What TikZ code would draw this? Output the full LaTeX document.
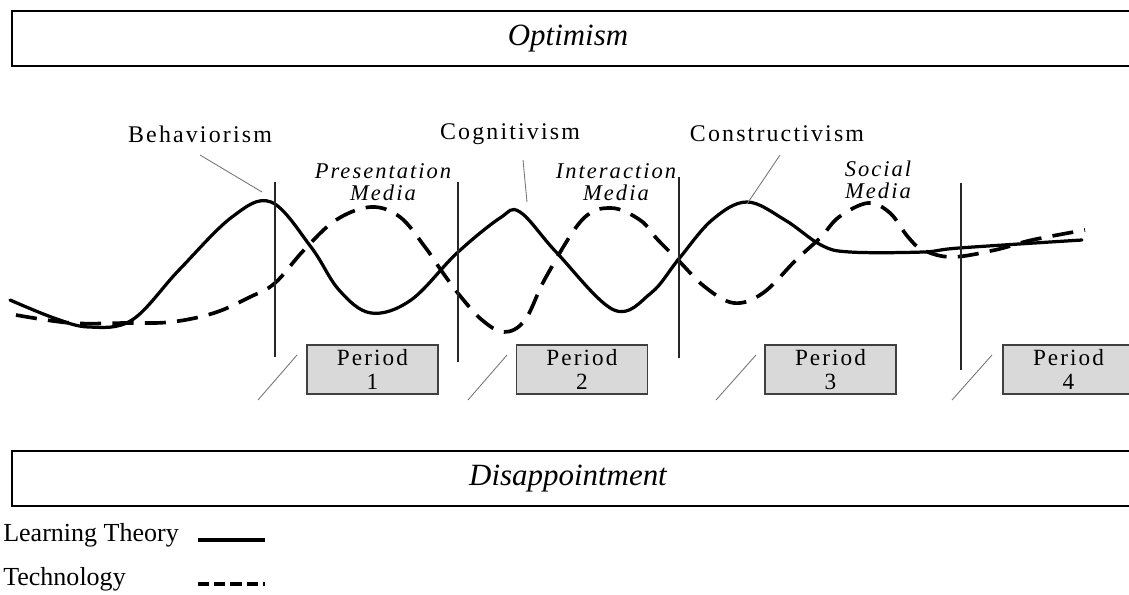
\documentclass[tikz,border=0pt]{standalone}
\usepackage{fontspec}
\setmainfont{Liberation Serif}
\newfontfamily\spacedfont[LetterSpace=9]{Liberation Serif}
\usetikzlibrary{positioning}

\begin{document}
\begin{tikzpicture}[x=0.025cm,y=-0.025cm,
  bandbox/.style={draw=black,line width=1.5pt},
  bandtext/.style={font=\fontsize{22}{24}\selectfont\itshape},
  theorylabel/.style={font=\spacedfont\fontsize{17}{17}\selectfont,inner sep=1pt},
  medialabel/.style={font=\spacedfont\fontsize{16}{16}\selectfont\itshape,align=center,inner sep=1pt},
  periodbox/.style={draw=black!75,fill=black!15,line width=1pt,minimum width=3.275cm,minimum height=1.225cm,align=center,font=\spacedfont\fontsize{16.5}{17.5}\selectfont,inner sep=0pt},
  divider/.style={draw=black!85,line width=1.3pt},
  pointer/.style={draw=black!55,line width=0.6pt},
  theoryline/.style={line width=2.3pt,line cap=round},
  techline/.style={line width=2.6pt,dash pattern=on 15pt off 8pt},
  legendtext/.style={font=\fontsize{18.5}{20}\selectfont,anchor=west,inner sep=0pt}]
\useasboundingbox (0,0) rectangle (1129,594);
% bands
\draw[bandbox] (12,11) rectangle (1150,66);
\node[bandtext] (optimism) at (568,38.5) {Optimism};
\draw[bandbox] (12,451) rectangle (1150,506);
\node[bandtext] (disappointment) at (568,478.5) {Disappointment};
% learning theory curve
\draw[theoryline] plot[smooth,tension=0.6] coordinates {(10,300) (54,318) (89,327) (132,320) (179,270) (232,217) (271,202) (311,247) (339,290) (371,313) (411,300) (457,253) (500,218) (520,212) (557,253) (614,310) (651,293) (678,260) (712,220) (747,202) (785,220) (821,245) (850,252) (923,252) (959,248) (1082,240)};
% technology curve
\draw[techline] plot[smooth,tension=0.6] coordinates {(16,315) (71,323) (125,323) (171,322) (214,313) (250,297) (275,283) (304,250) (336,220) (371,207) (400,217) (425,247) (443,273) (461,297) (482,320) (504,332) (525,320) (546,277) (582,220) (611,208) (640,220) (658,240) (678,260) (705,287) (734,303) (763,293) (796,260) (821,237) (839,217) (868,203) (890,213) (908,237) (923,250) (952,257) (995,250) (1032,240) (1085,230)};
% period dividers
\draw[divider] (275,182) -- (275,357);
\draw[divider] (458,182) -- (458,362);
\draw[divider] (679,177) -- (679,358);
\draw[divider] (961,183) -- (961,370);
% periods
\node[periodbox] (p1) at (372.5,369.5) {Period\\1};
\node[periodbox] (p2) at (582,369.5) {Period\\2};
\node[periodbox] (p3) at (830.5,369.5) {Period\\3};
\node[periodbox] (p4) at (1068.5,369.5) {Period\\4};
\draw[pointer] (258,400) -- (297,355);
\draw[pointer] (468,400) -- (507,355);
\draw[pointer] (716,400) -- (756,355);
\draw[pointer] (952,400) -- (992,355);
% theories
\node[theorylabel] (behav) at (200,134) {Behaviorism};
\node[theorylabel] (cogn) at (510,134) {Cognitivism};
\node[theorylabel] (constr) at (777,134) {Constructivism};
\coordinate (behavpeak) at (262,192);
\coordinate (cognpeak) at (527,202);
\coordinate (constrpeak) at (747,204);
\draw[pointer] (200,155) -- (behavpeak);
\draw[pointer] (523,160) -- (cognpeak);
\draw[pointer] (780,155) -- (constrpeak);
% media
\node[medialabel] (present) at (383,182) {Presentation\\Media};
\node[medialabel] (interact) at (616,182) {Interaction\\Media};
\node[medialabel] (social) at (878,180) {Social\\Media};
% legend
\node[legendtext] (ltlabel) at (3,535) {Learning Theory};
\node[legendtext] (techlabel) at (3,579) {Technology};
\draw[line width=2.3pt] (198,540) -- (265,540);
\draw[line width=2.3pt,dash pattern=on 8pt off 3.5pt] (198,584) -- (265,584);
\end{tikzpicture}
\end{document}
